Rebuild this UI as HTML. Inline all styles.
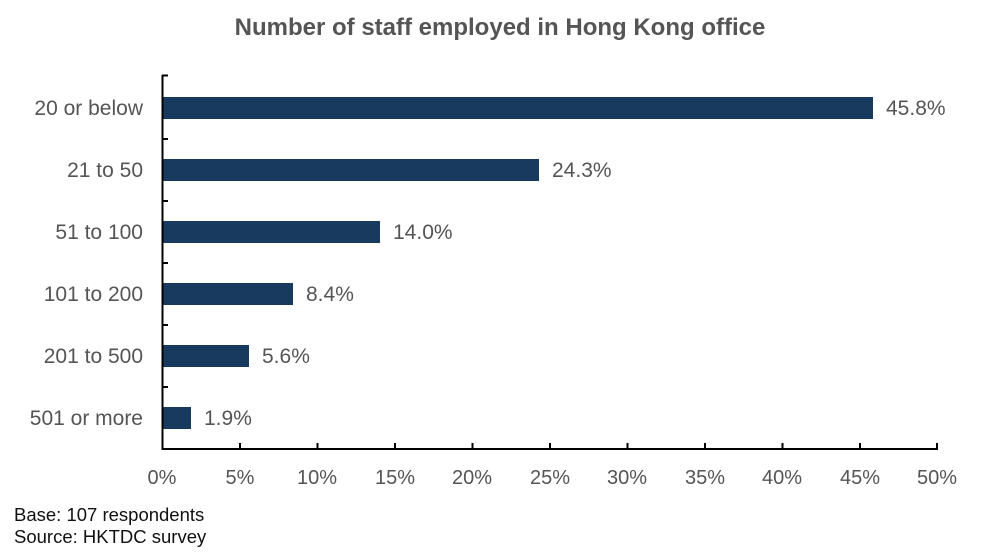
<!DOCTYPE html>
<html><head><style>
body{margin:0;background:#fff;}
svg text{font-family:"Liberation Sans",sans-serif;fill:#555;}
</style></head><body>
<svg width="988" height="555" xmlns="http://www.w3.org/2000/svg">
<text x="500" y="35" text-anchor="middle" font-size="24" font-weight="bold" fill="#555">Number of staff employed in Hong Kong office</text>
<g fill="#173a5e">
<rect x="163" y="97" width="710" height="22"/>
<rect x="163" y="159" width="376" height="22"/>
<rect x="163" y="221" width="217" height="22"/>
<rect x="163" y="283" width="130" height="22"/>
<rect x="163" y="345" width="86" height="22"/>
<rect x="163" y="407" width="28" height="22"/>
</g>
<g stroke="#000" stroke-width="2" fill="none">
<path d="M162.5 75 V449 H938"/>
<path d="M162 75.5h6 M162 139h6 M162 201h6 M162 263h6 M162 325h6 M162 387h6"/>
<path d="M240 449v-6 M317.5 449v-6 M395 449v-6 M472.5 449v-6 M550 449v-6 M627.5 449v-6 M705 449v-6 M782.5 449v-6 M860 449v-6 M937 449v-6"/>
</g>
<g font-size="21" text-anchor="end">
<text x="143" y="115">20 or below</text>
<text x="143" y="177">21 to 50</text>
<text x="143" y="239">51 to 100</text>
<text x="143" y="301">101 to 200</text>
<text x="143" y="363">201 to 500</text>
<text x="143" y="425">501 or more</text>
</g>
<g font-size="21">
<text x="886" y="115">45.8%</text>
<text x="552" y="177">24.3%</text>
<text x="393" y="239">14.0%</text>
<text x="306" y="301">8.4%</text>
<text x="262" y="363">5.6%</text>
<text x="204" y="425">1.9%</text>
</g>
<g font-size="20" text-anchor="middle">
<text x="162" y="484">0%</text><text x="240" y="484">5%</text><text x="317" y="484">10%</text><text x="395" y="484">15%</text><text x="472" y="484">20%</text><text x="550" y="484">25%</text><text x="627" y="484">30%</text><text x="705" y="484">35%</text><text x="782" y="484">40%</text><text x="860" y="484">45%</text><text x="937" y="484">50%</text>
</g>
<g font-size="18.5">
<text x="14" y="521" style="fill:#111">Base: 107 respondents</text>
<text x="14" y="543" style="fill:#111">Source: HKTDC survey</text>
</g>
</svg>
</body></html>
